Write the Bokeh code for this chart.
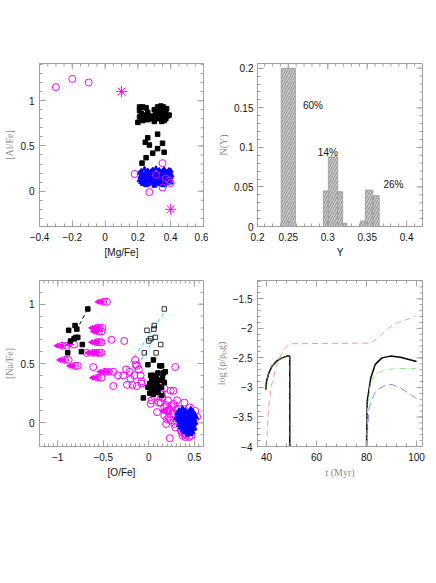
import numpy as np
from bokeh.plotting import figure
from bokeh.models import FixedTicker, Range1d
from bokeh.layouts import gridplot
from bokeh.embed import file_html
from bokeh.resources import INLINE
from bokeh.core.properties import value

# ---------------- Panel 1: [Al/Fe] vs [Mg/Fe] ----------------
mg_open = [-0.30, -0.20, -0.10, 0.18, 0.35, 0.27, 0.35, 0.31, 0.37, 0.39, 0.40]
al_open = [1.15, 1.24, 1.20, 0.19, 0.31, -0.01, 0.04, 0.18, 0.14, 0.12, 0.09]
mg_star = [0.10, 0.40]
al_star = [1.10, -0.20]
mg_sq = [0.21, 0.23, 0.25, 0.21, 0.22, 0.21, 0.20, 0.26, 0.27, 0.24, 0.26,
         0.30, 0.32, 0.34, 0.355, 0.36, 0.33, 0.315, 0.29, 0.34, 0.37, 0.38,
         0.35, 0.32, 0.36, 0.30, 0.345, 0.37, 0.28, 0.39, 0.31, 0.35, 0.375,
         0.25, 0.23,
         0.32, 0.26, 0.245, 0.27, 0.35, 0.32, 0.29, 0.36, 0.25, 0.225]
al_sq = [0.93, 0.93, 0.92, 0.89, 0.86, 0.82, 0.76, 0.87, 0.82, 0.80, 0.79,
         0.90, 0.93, 0.94, 0.93, 0.90, 0.88, 0.85, 0.83, 0.85, 0.86, 0.83,
         0.81, 0.80, 0.78, 0.77, 0.77, 0.80, 0.80, 0.84, 0.87, 0.89, 0.91,
         0.84, 0.78,
         0.63, 0.59, 0.54, 0.51, 0.53, 0.47, 0.42, 0.43, 0.37, 0.31]
mg_tri = [0.24, 0.29, 0.31, 0.36, 0.39,
          0.22, 0.26, 0.28, 0.33, 0.35, 0.38, 0.40,
          0.21, 0.245, 0.27, 0.30, 0.32, 0.345, 0.37, 0.395,
          0.23, 0.255, 0.285, 0.31, 0.335, 0.36, 0.385, 0.405,
          0.215, 0.24, 0.265, 0.295, 0.325, 0.35, 0.375, 0.40,
          0.225, 0.25, 0.28, 0.305, 0.33, 0.355, 0.38,
          0.21, 0.235, 0.26, 0.29, 0.315, 0.34, 0.365, 0.39,
          0.22, 0.245, 0.275, 0.30, 0.325, 0.35, 0.375, 0.40,
          0.23, 0.26, 0.285, 0.32, 0.345, 0.37,
          0.25, 0.30, 0.36]
al_tri = [0.245, 0.235, 0.25, 0.24, 0.23,
          0.22, 0.225, 0.215, 0.23, 0.22, 0.215, 0.225,
          0.20, 0.195, 0.205, 0.20, 0.19, 0.205, 0.20, 0.195,
          0.18, 0.175, 0.185, 0.18, 0.17, 0.185, 0.18, 0.175,
          0.16, 0.155, 0.165, 0.16, 0.15, 0.165, 0.16, 0.155,
          0.14, 0.135, 0.145, 0.14, 0.13, 0.145, 0.14,
          0.12, 0.115, 0.125, 0.12, 0.11, 0.125, 0.12, 0.115,
          0.10, 0.095, 0.105, 0.10, 0.09, 0.105, 0.10, 0.095,
          0.08, 0.075, 0.085, 0.08, 0.07, 0.085,
          0.065, 0.06, 0.065]

# ---------------- Panel 2: N(Y) histogram ----------------
hist_left = [0.241, 0.2945, 0.3008, 0.3126, 0.3189, 0.3413, 0.3476, 0.3571]
hist_right = [0.259, 0.3008, 0.3126, 0.3189, 0.3243, 0.3476, 0.3571, 0.3652]
hist_top = [0.200, 0.045, 0.088, 0.044, 0.004, 0.007, 0.046, 0.039]
pct_text = ["60%", "14%", "26%"]
pct_x = [0.2685, 0.2874, 0.3705]
pct_y = [0.153, 0.094, 0.0535]

# ---------------- Panel 3: [Na/Fe] vs [O/Fe] ----------------
o_lim = [-0.50, -0.46, -0.57, -0.54, -0.51, -0.55, -0.52, -0.57, -0.54, -0.52,
         -0.61, -0.57, -0.54, -0.52, -0.95, -0.90, -0.82, -0.92, -0.88, -0.81,
         -0.78, -0.48, -0.44, -0.39, -0.56, -0.52, 0.21, 0.24]
na_lim = [1.02, 1.02, 0.80, 0.80, 0.80, 0.77, 0.77, 0.68, 0.68, 0.68,
          0.59, 0.59, 0.59, 0.59, 0.65, 0.65, 0.66, 0.53, 0.53, 0.48,
          0.48, 0.43, 0.43, 0.43, 0.38, 0.38, 0.10, 0.10]
o_det = [-0.41, -0.27, -0.68, -0.61, -0.34, -0.25, -0.21, -0.16, -0.15, -0.13,
         -0.18, -0.13, -0.28, -0.09, -0.08, -0.39, -0.20, -0.11, -0.145, -0.24,
         0.29, 0.17, 0.24, 0.10, 0.13, 0.03, 0.11, 0.13, 0.21, 0.31, 0.39,
         0.17, 0.20, 0.26, 0.17, 0.20, 0.24, 0.28, 0.29, 0.35, 0.39, 0.40,
         0.37, 0.23, 0.53, 0.51, 0.49, 0.22, 0.19, 0.27, 0.02, 0.19, -0.08,
         0.15, 0.25, 0.33, 0.06, 0.09, 0.30, 0.44, 0.47, 0.36, 0.42, 0.33,
         0.27, 0.22, 0.14, 0.31, 0.45, 0.40]
na_det = [0.70, 0.69, 0.59, 0.47, 0.40, 0.45, 0.43, 0.40, 0.53, 0.48,
          0.32, 0.31, 0.40, 0.40, 0.35, 0.31, 0.37, 0.45, 0.49, 0.32,
          0.47, 0.29, 0.27, 0.32, 0.27, 0.19, 0.17, 0.17, 0.19, 0.19, 0.17,
          0.13, 0.10, 0.08, 0.06, 0.03, 0.02, -0.01, -0.04, -0.06, -0.09, -0.10,
          -0.11, -0.13, 0.05, 0.10, -0.01, 0.11, -0.01, 0.27, 0.16, 0.15, 0.33,
          0.21, 0.14, 0.12, 0.22, 0.09, 0.02, -0.12, -0.11, -0.08, 0.07, 0.04,
          0.16, 0.05, 0.24, 0.11, 0.13, -0.12]
o_sqL = [-0.67, -0.81, -0.79, -0.88, -0.82, -0.80, -0.78, -0.86, -0.73, -0.89, -0.74]
na_sqL = [0.96, 0.82, 0.79, 0.78, 0.71, 0.72, 0.72, 0.69, 0.66, 0.59, 0.60]
o_sqR = [0.05, -0.01, 0.12, 0.14, 0.16, 0.18, 0.10, 0.05, 0.08, 0.03, 0.07, 0.12,
         0.15, 0.01, 0.05, 0.09, 0.11, 0.14, -0.01, 0.03, 0.07, 0.01, 0.05, 0.14,
         0.10, -0.06, 0.17, 0.06, 0.02]
na_sqR = [0.53, 0.49, 0.48, 0.48, 0.42, 0.43, 0.42, 0.40, 0.38, 0.36, 0.35, 0.36,
          0.38, 0.33, 0.32, 0.33, 0.30, 0.30, 0.30, 0.28, 0.27, 0.25, 0.24, 0.23,
          0.26, 0.21, 0.34, 0.29, 0.40]
o_open_sq = [0.17, 0.06, 0.055, -0.02, 0.07, 0.02, 0.00, 0.13, 0.08, -0.05]
na_open_sq = [0.96, 0.82, 0.79, 0.78, 0.72, 0.71, 0.69, 0.66, 0.59, 0.59]
o_tri = [0.37, 0.46,
         0.33, 0.40, 0.44, 0.48,
         0.31, 0.36, 0.39, 0.42, 0.45, 0.50,
         0.34, 0.38, 0.41, 0.44, 0.47, 0.51,
         0.30, 0.33, 0.36, 0.40, 0.43, 0.46, 0.49, 0.52,
         0.32, 0.35, 0.38, 0.41, 0.44, 0.47, 0.50,
         0.34, 0.37, 0.40, 0.42, 0.45, 0.48, 0.51,
         0.33, 0.36, 0.39, 0.43, 0.46, 0.49,
         0.35, 0.38, 0.41, 0.44, 0.47, 0.50,
         0.37, 0.40, 0.43, 0.46, 0.49,
         0.39, 0.42, 0.45, 0.48,
         0.43, 0.46]
na_tri = [0.12, 0.115,
          0.10, 0.105, 0.095, 0.10,
          0.08, 0.085, 0.075, 0.08, 0.085, 0.075,
          0.06, 0.055, 0.065, 0.06, 0.055, 0.06,
          0.04, 0.045, 0.035, 0.04, 0.045, 0.035, 0.04, 0.045,
          0.02, 0.015, 0.025, 0.02, 0.015, 0.025, 0.02,
          0.00, 0.005, -0.005, 0.00, 0.005, -0.005, 0.00,
          -0.02, -0.025, -0.015, -0.02, -0.025, -0.015,
          -0.04, -0.035, -0.045, -0.04, -0.035, -0.045,
          -0.06, -0.055, -0.065, -0.06, -0.055,
          -0.08, -0.075, -0.085, -0.08,
          -0.10, -0.095]
blk_dash_o = [-0.67, -0.76]
blk_dash_na = [0.96, 0.83]
cyan1_o = [-0.38, 0.17]
cyan1_na = [0.31, 0.93]
cyan2_o = [-0.25, 0.07]
cyan2_na = [0.33, 0.72]

# ---------------- Panel 4: log(rho/rho_pg) vs t ----------------
t_blk1 = [39.7, 40.0, 40.9, 42.2, 44.2, 46.2, 48.2, 49.3, 49.3]
r_blk1 = [-3.04, -2.90, -2.76, -2.64, -2.55, -2.50, -2.47, -2.47, -4.0]
t_grn1 = [39.7, 40.0, 40.9, 42.2, 44.2, 46.2, 48.2, 49.3, 49.3]
r_grn1 = [-3.04, -2.90, -2.76, -2.64, -2.55, -2.50, -2.47, -2.47, -4.0]
t_blk2 = [80.0, 80.3, 81.7, 83.5, 86.2, 89.6, 93.6, 100.0]
r_blk2 = [-4.0, -3.23, -2.84, -2.61, -2.50, -2.47, -2.49, -2.56]
t_grn2 = [80.0, 80.5, 81.5, 83.5, 87.5, 92.0, 100.0]
r_grn2 = [-4.0, -3.30, -2.95, -2.78, -2.70, -2.68, -2.68]
t_blu2 = [80.0, 81.0, 83.5, 87.5, 90.2, 93.6, 97.0, 100.0]
r_blu2 = [-4.0, -3.35, -3.07, -2.96, -2.95, -3.01, -3.10, -3.19]
t_red = [40.0, 40.8, 42.1, 44.1, 46.8, 49.5, 81.5, 84.8, 88.8, 92.8, 100.0]
r_red = [-4.0, -3.35, -2.95, -2.61, -2.36, -2.26, -2.25, -2.16, -1.995, -1.90, -1.79]

# ---------------- styling helpers ----------------
FRAME = "#a0a0a0"
NUMFONT = "Liberation Sans"
SERIF = "Liberation Serif"


def make_fig(w, h, xr, yr, bl, br, bt, bb):
    p = figure(width=w, height=h, x_range=Range1d(*xr), y_range=Range1d(*yr),
               output_backend="svg", toolbar_location=None,
               min_border_left=bl, min_border_right=br,
               min_border_top=bt, min_border_bottom=bb)
    p.grid.visible = False
    p.outline_line_color = FRAME
    p.outline_line_width = 1
    p._frame = (w - bl - br, h - bt - bb)
    return p


def in_rng(vals, r):
    lo, hi = min(r), max(r)
    return [v for v in vals if lo <= v <= hi]


def style_axes(p, xmaj, xmin, ymaj, ymin, xlabel, ylabel, xserif, yserif,
               ystand=3, overrides=None):
    xt = FixedTicker(ticks=xmaj, minor_ticks=xmin)
    yt = FixedTicker(ticks=ymaj, minor_ticks=ymin)
    bottom = p.below[0]
    left = p.left[0]
    bottom.ticker = xt
    left.ticker = yt
    for ax in (bottom, left):
        ax.major_tick_in = 6
        ax.major_tick_out = 0
        ax.minor_tick_in = 3
        ax.minor_tick_out = 0
        ax.axis_line_color = FRAME
        ax.major_tick_line_color = FRAME
        ax.minor_tick_line_color = FRAME
        ax.major_label_text_font = NUMFONT
        ax.major_label_text_font_size = "10px"
        ax.major_label_text_color = "#111111"
        ax.axis_label_text_font_style = "normal"
        ax.axis_label_text_font_size = "10px"
    if overrides:
        bottom.major_label_overrides = overrides
    bottom.major_label_standoff = 6
    left.major_label_standoff = 5
    bottom.axis_label = xlabel
    left.axis_label = ylabel
    for ax, serif in ((bottom, xserif), (left, yserif)):
        if serif:
            ax.axis_label_text_font = SERIF
            ax.axis_label_text_color = "#8a8a8a"
        else:
            ax.axis_label_text_font = NUMFONT
            ax.axis_label_text_color = "#111111"
    bottom.axis_label_standoff = 3
    left.axis_label_standoff = ystand
    # inward ticks on the top and right sides of the box
    xr = (p.x_range.start, p.x_range.end)
    yr = (p.y_range.start, p.y_range.end)
    fw, fh = p._frame
    dx = (xr[1] - xr[0]) / fw
    dy = (yr[1] - yr[0]) / fh
    for ticks, ln in ((in_rng(xmaj, xr), 6), (in_rng(xmin, xr), 3)):
        p.segment(x0=ticks, y0=[yr[1]] * len(ticks), x1=ticks,
                  y1=[yr[1] - ln * dy] * len(ticks), line_color=FRAME, line_width=1)
    for ticks, ln in ((in_rng(ymaj, yr), 6), (in_rng(ymin, yr), 3)):
        p.segment(x0=[xr[1]] * len(ticks), y0=ticks, x1=[xr[1] - ln * dx] * len(ticks),
                  y1=ticks, line_color=FRAME, line_width=1)


def minors(a, b, step):
    n = int(round((b - a) / step))
    return [round(a + i * step, 6) for i in range(n + 1)]


MAG = "#ff00ff"

# ---------------- Panel 1 ----------------
p1 = make_fig(208, 275, (-0.4, 0.6), (-0.39, 1.41), 37, 5, 60, 49)
style_axes(p1, [-0.4, -0.2, 0, 0.2, 0.4, 0.6], minors(-0.4, 0.6, 0.05),
           [0, 0.5, 1], minors(-0.4, 1.4, 0.1), "[Mg/Fe]", "[Al/Fe]", False, True,
           ystand=3)
p1.scatter(mg_sq, al_sq, marker="square", size=4.5, color="black")
p1.scatter(mg_tri, al_tri, marker="triangle", size=5, color="#0000ff")
p1.scatter(mg_open, al_open, marker="circle", size=7, fill_color=None,
           line_color=MAG, line_width=1)
p1.scatter(mg_star, al_star, marker="asterisk", size=11, line_color=MAG, line_width=1)

# ---------------- Panel 2 ----------------
X2 = (0.211, 0.420)
p2 = make_fig(224, 275, X2, (0, 0.206), 48, 10, 63, 48)
style_axes(p2, [X2[0], 0.25, 0.3, 0.35, 0.4], minors(0.22, 0.42, 0.01),
           [0, 0.05, 0.1, 0.15, 0.2], minors(0, 0.2, 0.01), "Y", "N(Y)", False, True,
           ystand=2, overrides={X2[0]: "0.2"})
p2.left[0].major_label_standoff = 4
p2.quad(left=hist_left, right=hist_right, bottom=0, top=hist_top,
        fill_color="#cfcfcf", line_color="#9a9a9a", line_width=0.8,
        hatch_pattern="/", hatch_color="#7a7a7a", hatch_scale=5, hatch_weight=0.8)
p2.text(pct_x, pct_y, text=pct_text, text_font=value(NUMFONT),
        text_font_size="10px", text_align="left", text_baseline="middle",
        text_color="#111111")

# ---------------- Panel 3 ----------------
p3 = make_fig(208, 300, (-1.2, 0.6), (-0.2, 1.2), 37, 5, 5, 129)
style_axes(p3, [-1, -0.5, 0, 0.5], minors(-1.2, 0.6, 0.05),
           [0, 0.5, 1], minors(-0.2, 1.2, 0.1), "[O/Fe]", "[Na/Fe]", False, True,
           ystand=3)
p3.line(cyan1_o, cyan1_na, line_color="#00e5ff", line_dash="4 3", line_width=1)
p3.line(cyan2_o, cyan2_na, line_color="#00e5ff", line_dash="4 3", line_width=1)
p3.line(blk_dash_o, blk_dash_na, line_color="black", line_dash="4 3", line_width=1)
tip_o = [v - 0.06 for v in o_lim]
p3.segment(x0=o_lim, y0=na_lim, x1=tip_o, y1=na_lim, line_color=MAG, line_width=1)
p3.scatter(tip_o, na_lim, marker="triangle", angle=np.pi / 2, size=5, color=MAG)
p3.scatter(o_lim, na_lim, marker="circle", size=7, fill_color=None, line_color=MAG)
p3.scatter(o_det, na_det, marker="circle", size=7, fill_color=None, line_color=MAG)
p3.scatter(o_sqL, na_sqL, marker="square", size=4.5, color="black")
p3.scatter(o_sqR, na_sqR, marker="square", size=4.5, color="black")
p3.scatter(o_open_sq, na_open_sq, marker="square", size=4.5, fill_color=None,
           line_color="black", line_width=0.8)
p3.scatter(o_tri, na_tri, marker="triangle", size=5, color="#0000ff")

# ---------------- Panel 4 ----------------
p4 = make_fig(224, 300, (36.4, 102.4), (-4.0, -1.19), 49, 10, 5, 128)
style_axes(p4, [40, 60, 80, 100], minors(36, 102, 4),
           [-4, -3.5, -3, -2.5, -2, -1.5], minors(-4, -1.2, 0.1),
           "t (Myr)", "log (\u03c1/\u03c1\u209ag)", True, True, ystand=3)
p4.line(t_red, r_red, line_color="#ff9a9a", line_dash="6 4", line_width=1)
p4.line(t_blu2, r_blu2, line_color="#8a8aff", line_dash="8 4", line_width=1)
p4.line(t_blk1, r_blk1, line_color="black", line_width=1.5)
p4.line(t_blk2, r_blk2, line_color="black", line_width=1.5)
p4.line(t_grn1, r_grn1, line_color="#2e8b2e", line_dash="6 2 1 2", line_width=1)
p4.line(t_grn2, r_grn2, line_color="#90ee90", line_dash="6 2 1 2", line_width=1)

grid = gridplot([[p1, p2], [p3, p4]], toolbar_location=None)
open("out.html", "w").write(file_html(grid, INLINE))
